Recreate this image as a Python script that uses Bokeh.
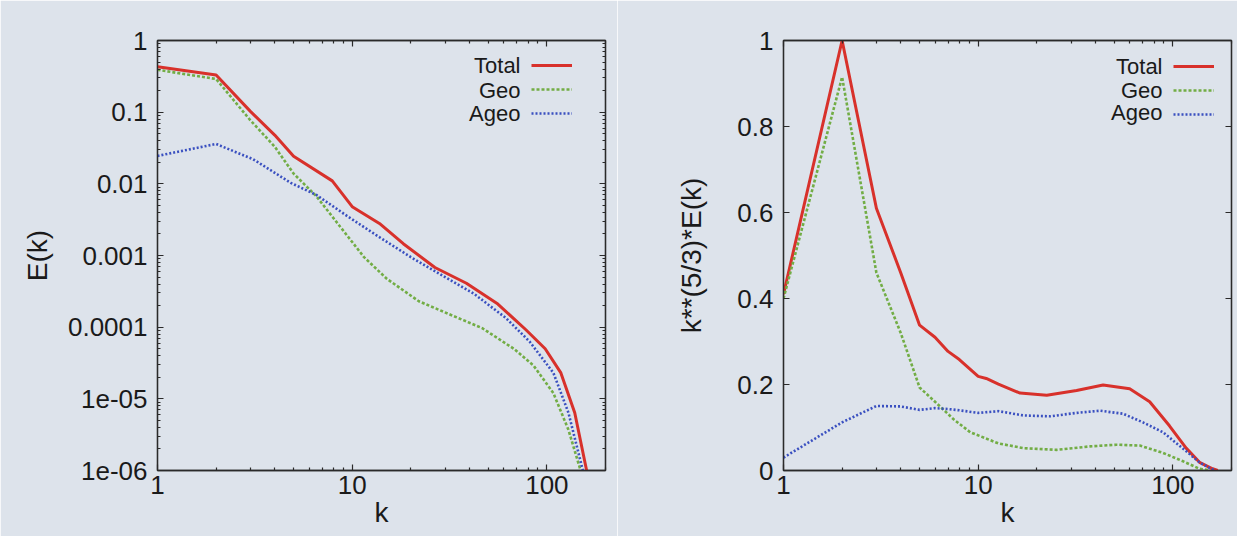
from bokeh.plotting import figure
from bokeh.layouts import row
from bokeh.models import (FixedTicker, CustomJSTickFormatter, LogAxis, LinearAxis,
                          Label, Legend, LegendItem)
from bokeh.embed import file_html
from bokeh.resources import INLINE
from bokeh.core.properties import value

# ---------------- data ----------------
series_names = ["Total", "Geo", "Ageo"]

# left panel: E(k)
k_total_E = [1, 2, 3, 4, 5, 7.9, 10, 13.8, 18.3, 26.6, 38.6, 56, 78, 98, 118, 139, 160, 175]
E_total = [0.43, 0.33, 0.1026, 0.0479, 0.0243, 0.011, 0.0048, 0.0028, 0.00146, 0.00068,
           0.00041, 0.00021, 9.2e-5, 5e-5, 2.3e-5, 6.4e-6, 1e-6, 2e-7]
k_geo_E = [1, 2, 3, 4, 5, 6.55, 8.7, 11.5, 15.1, 22, 32, 46.5, 67.6, 85.5, 108, 129, 149, 165]
E_geo = [0.39, 0.29, 0.077, 0.033, 0.0139, 0.0067, 0.0025, 0.00095, 0.00047, 0.00023,
         0.000149, 9.7e-5, 5e-5, 2.9e-5, 1.2e-5, 3.7e-6, 1e-6, 2e-7]
k_ageo_E = [1, 2, 3.1, 4.84, 6.55, 9.5, 13.8, 20, 29.2, 42.4, 61.6, 81.5, 108, 129, 153, 170]
E_ageo = [0.0245, 0.036, 0.022, 0.0103, 0.0070, 0.0035, 0.0018, 0.00095, 0.00052, 0.00029,
          0.000134, 6.3e-5, 2.3e-5, 6.4e-6, 1e-6, 2e-7]

# right panel: k**(5/3)*E(k) (normalised)
k_total_C = [1, 2, 3, 4, 5, 6, 7, 8, 10, 11, 12.7, 16.4, 22.5, 32, 43.8, 60, 76, 96, 117, 137, 160, 170]
C_total = [0.41, 1.0, 0.61, 0.46, 0.338, 0.31, 0.277, 0.258, 0.219, 0.214, 0.201, 0.180,
           0.175, 0.186, 0.199, 0.19, 0.16, 0.104, 0.052, 0.019, 0.004, 0.0]
k_geo_C = [1, 2, 3, 4, 5, 6, 7.48, 9.1, 12.7, 17.1, 25.3, 37.4, 51.3, 67.6, 88.9, 112, 137, 155]
C_geo = [0.40, 0.915, 0.46, 0.32, 0.193, 0.16, 0.119, 0.089, 0.063, 0.052, 0.048, 0.056,
         0.060, 0.058, 0.041, 0.022, 0.004, 0.0]
k_ageo_C = [1, 2, 3, 4, 5, 6, 7, 8, 10, 12.7, 17.1, 23.4, 32, 42.2, 55.5, 70.2, 88.9, 112, 137, 157, 165]
C_ageo = [0.03, 0.112, 0.15, 0.149, 0.141, 0.145, 0.143, 0.140, 0.134, 0.138, 0.128, 0.126,
          0.134, 0.139, 0.132, 0.112, 0.089, 0.052, 0.019, 0.004, 0.0]

# tick labels
x_ticks = [1, 10, 100]
x_tick_labels = ["1", "10", "100"]
yE_ticks = [1e-6, 1e-5, 1e-4, 1e-3, 1e-2, 1e-1, 1]
yE_tick_labels = ["1e-06", "1e-05", "0.0001", "0.001", "0.01", "0.1", "1"]
yC_ticks = [0, 0.2, 0.4, 0.6, 0.8, 1.0]
yC_tick_labels = ["0", "0.2", "0.4", "0.6", "0.8", "1"]

# ---------------- style ----------------
FONT = "Liberation Sans"
BG = "#dde3eb"
TXT = "#1a1a1a"
AX = "#2a2a2a"
COLORS = ["#d8312b", "#72ad45", "#3a50c0"]
DASHES = ["solid", "3 2", "2 2"]
WIDTHS = [3.0, 2.6, 2.6]
FRAME_W = 448
FRAME_H = 430

x_minor = [m * 10 ** e for e in range(0, 3) for m in range(2, 10) if m * 10 ** e <= 200]
yE_minor = [m * 10.0 ** e for e in range(-6, 0) for m in range(2, 10)]

LOG_FMT = ("for (let i = 0; i < vals.length; i++) {"
           " if (Math.abs(Math.log10(vals[i]) - Math.log10(tick)) < 1e-6) return labs[i]; }"
           " return '';")
LIN_FMT = ("for (let i = 0; i < vals.length; i++) {"
           " if (Math.abs(vals[i] - tick) < 1e-9) return labs[i]; }"
           " return '';")


def style_axis(ax, ticker, fmt):
    ax.ticker = ticker
    ax.formatter = fmt
    ax.major_tick_in = 6
    ax.major_tick_out = 0
    ax.minor_tick_in = 3
    ax.minor_tick_out = 0
    ax.axis_line_color = AX
    ax.axis_line_width = 1.3
    ax.major_tick_line_color = AX
    ax.minor_tick_line_color = AX
    ax.major_tick_line_width = 1.2
    ax.minor_tick_line_width = 1.2
    ax.major_label_text_font = FONT
    ax.major_label_text_font_size = "26px"
    ax.major_label_text_color = TXT
    ax.axis_label_text_font = FONT
    ax.axis_label_text_font_style = "normal"
    ax.axis_label_text_font_size = "28px"
    ax.axis_label_text_color = TXT


def make_panel(kind, left, right, xs, ys, ylabel, ylabel_standoff,
               legend_x, legend_top, text_right, text_tops):
    is_log = kind == "E"
    p = figure(frame_width=FRAME_W, frame_height=FRAME_H,
               x_axis_type="log", y_axis_type="log" if is_log else "linear",
               x_range=(1, 200), y_range=(1e-6, 1) if is_log else (0, 1),
               output_backend="svg", toolbar_location=None,
               min_border_left=left, min_border_right=right,
               min_border_top=40, min_border_bottom=66)
    p.background_fill_color = BG
    p.border_fill_color = BG
    p.outline_line_color = AX
    p.outline_line_width = 1.3
    p.grid.visible = False

    xt = FixedTicker(ticks=x_ticks, minor_ticks=x_minor)
    xf = CustomJSTickFormatter(args=dict(vals=x_ticks, labs=x_tick_labels), code=LOG_FMT)
    if is_log:
        yt = FixedTicker(ticks=yE_ticks, minor_ticks=yE_minor)
        yf = CustomJSTickFormatter(args=dict(vals=yE_ticks, labs=yE_tick_labels), code=LOG_FMT)
    else:
        yt = FixedTicker(ticks=yC_ticks, minor_ticks=[])
        yf = CustomJSTickFormatter(args=dict(vals=yC_ticks, labs=yC_tick_labels), code=LIN_FMT)

    style_axis(p.xaxis[0], xt, xf)
    p.xaxis[0].major_label_standoff = 5
    p.xaxis[0].axis_label = "k"
    p.xaxis[0].axis_label_standoff = 0
    style_axis(p.yaxis[0], yt, yf)
    p.yaxis[0].major_label_standoff = 10
    p.yaxis[0].axis_label = ylabel
    p.yaxis[0].axis_label_standoff = ylabel_standoff

    blank = CustomJSTickFormatter(code="return '';")
    top = LogAxis(ticker=FixedTicker(ticks=x_ticks, minor_ticks=x_minor))
    style_axis(top, top.ticker, blank)
    top.major_label_standoff = 0
    p.add_layout(top, "above")
    if is_log:
        rax = LogAxis(ticker=FixedTicker(ticks=yE_ticks, minor_ticks=yE_minor))
    else:
        rax = LinearAxis(ticker=FixedTicker(ticks=yC_ticks, minor_ticks=[]))
    style_axis(rax, rax.ticker, blank)
    rax.major_label_standoff = 0
    p.add_layout(rax, "right")

    renderers = []
    for (kx, vy), c, d, w in zip(zip(xs, ys), COLORS, DASHES, WIDTHS):
        r = p.line(kx, vy, line_color=c, line_dash=d, line_width=w)
        renderers.append(r)

    # legend: samples on the right, names right-aligned to their left (gnuplot style)
    row_h = 24
    items = [LegendItem(label=value(" "), renderers=[r]) for r in renderers]
    leg = Legend(items=items, location=(legend_x, FRAME_H - legend_top - 3 * row_h),
                 glyph_width=41, glyph_height=row_h, label_height=row_h, label_width=0,
                 label_standoff=0, padding=0, spacing=0, margin=0,
                 label_text_font_size="2px",
                 border_line_alpha=0, background_fill_alpha=0)
    p.add_layout(leg)
    for name, ty in zip(series_names, text_tops):
        p.add_layout(Label(x=text_right, y=FRAME_H - ty, x_units="screen", y_units="screen",
                           text=name, text_align="right", text_baseline="middle",
                           text_font=FONT, text_font_size="22px", text_color=TXT))
    return p


p1 = make_panel("E", 157, 12,
                [k_total_E, k_geo_E, k_ageo_E], [E_total, E_geo, E_ageo], "E(k)", 12,
                374, 12.7, 363, [24.7, 50, 73])
p2 = make_panel("C", 166, 6,
                [k_total_C, k_geo_C, k_ageo_C], [C_total, C_geo, C_ageo], "k**(5/3)*E(k)", 27,
                390, 14.3, 379, [26.3, 50, 72.3])

layout = row(p1, p2, spacing=0)
open("out.html", "w").write(file_html(layout, INLINE))
